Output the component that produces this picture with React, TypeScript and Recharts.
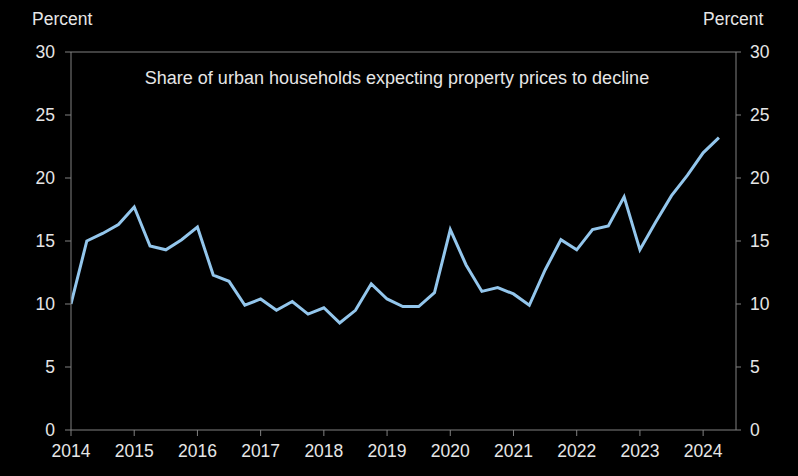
import { LineChart, Line, XAxis, YAxis, ReferenceLine } from "recharts"

// quarterly readings, 2014Q1 .. 2024Q2
const quarters = [
  2014, 2014.25, 2014.5, 2014.75,
  2015, 2015.25, 2015.5, 2015.75,
  2016, 2016.25, 2016.5, 2016.75,
  2017, 2017.25, 2017.5, 2017.75,
  2018, 2018.25, 2018.5, 2018.75,
  2019, 2019.25, 2019.5, 2019.75,
  2020, 2020.25, 2020.5, 2020.75,
  2021, 2021.25, 2021.5, 2021.75,
  2022, 2022.25, 2022.5, 2022.75,
  2023, 2023.25, 2023.5, 2023.75,
  2024, 2024.25,
]

const sharePct = [
  10.0, 15.0, 15.6, 16.3,
  17.7, 14.6, 14.3, 15.1,
  16.1, 12.3, 11.8, 9.9,
  10.4, 9.5, 10.2, 9.2,
  9.7, 8.5, 9.5, 11.6,
  10.4, 9.8, 9.8, 10.9,
  15.9, 13.1, 11.0, 11.3,
  10.8, 9.9, 12.7, 15.1,
  14.3, 15.9, 16.2, 18.5,
  14.3, 16.5, 18.6, 20.2,
  22.0, 23.2,
]

const yearTicks = [2014, 2015, 2016, 2017, 2018, 2019, 2020, 2021, 2022, 2023, 2024]
const pctTicks = [0, 5, 10, 15, 20, 25, 30]

const data = quarters.map((q, i) => ({ q, v: sharePct[i] }))

const AXIS = "#808080"
const TEXT = "#e6e6e6"
const FONT = "Arial, 'Liberation Sans', sans-serif"

export default function App() {
  const tick = { fill: TEXT, fontSize: 17.5, fontFamily: FONT }
  return (
    <div style={{ position: "relative", width: 798, height: 476, background: "#000" }}>
      <style>{"body{margin:0;background:#000}"}</style>
      <LineChart
        width={798}
        height={476}
        data={data}
        margin={{ top: 52, right: 0, bottom: 16, left: 0 }}
      >
        <XAxis
          dataKey="q"
          type="number"
          domain={[2014, 2024.52]}
          ticks={yearTicks}
          allowDataOverflow
          stroke={AXIS}
          tickLine={{ stroke: AXIS }}
          tickSize={6}
          tickMargin={9}
          tick={tick}
          height={30}
        />
        <YAxis
          yAxisId="left"
          domain={[0, 30]}
          ticks={pctTicks}
          stroke={AXIS}
          tickSize={6}
          tickMargin={10}
          tick={tick}
          width={71}
        />
        <YAxis
          yAxisId="right"
          orientation="right"
          domain={[0, 30]}
          ticks={pctTicks}
          stroke={AXIS}
          tickSize={5}
          tickMargin={9}
          tick={{ ...tick, textAnchor: "start" }}
          width={62}
        />
        <ReferenceLine yAxisId="left" y={30} stroke={AXIS} />
        <Line
          yAxisId="right"
          dataKey="v"
          stroke="none"
          dot={false}
          activeDot={false}
          legendType="none"
          isAnimationActive={false}
        />
        <Line
          yAxisId="left"
          dataKey="v"
          type="linear"
          stroke="#93c6ec"
          strokeWidth={3}
          dot={false}
          isAnimationActive={false}
        />
      </LineChart>
      <svg
        width={798}
        height={476}
        style={{ position: "absolute", left: 0, top: 0, pointerEvents: "none" }}
      >
        <text x={32} y={25} fill={TEXT} fontSize={17.5} fontFamily={FONT}>
          Percent
        </text>
        <text x={703} y={25} fill={TEXT} fontSize={17.5} fontFamily={FONT}>
          Percent
        </text>
        <text x={397} y={84} fill={TEXT} fontSize={18} fontFamily={FONT} textAnchor="middle">
          Share of urban households expecting property prices to decline
        </text>
      </svg>
    </div>
  )
}
